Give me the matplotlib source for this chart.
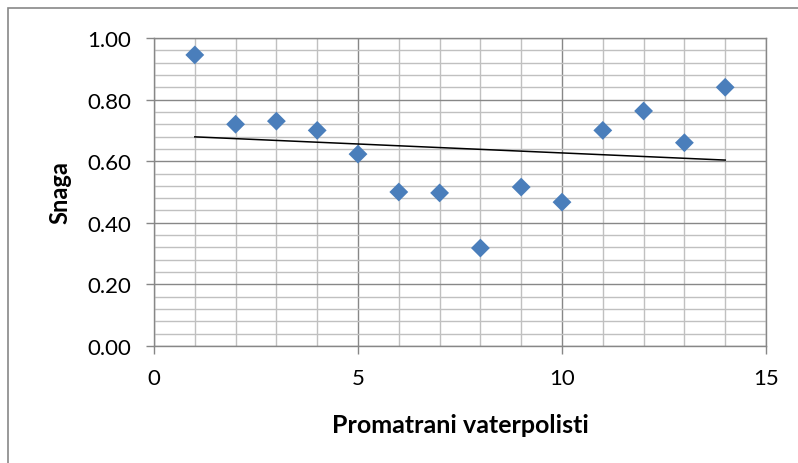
import matplotlib.pyplot as plt
import matplotlib.ticker as mticker
from matplotlib.patches import Rectangle
import numpy as np

plt.rcParams['font.family'] = ['Lato', 'DejaVu Sans']

# data
players = [1, 2, 3, 4, 5, 6, 7, 8, 9, 10, 11, 12, 13, 14]
snaga = [0.945, 0.72, 0.73, 0.70, 0.623, 0.50, 0.497, 0.318, 0.516, 0.467, 0.70, 0.763, 0.66, 0.84]

x_label = "Promatrani vaterpolisti"
y_label = "Snaga"

W, H = 798, 464
fig = plt.figure(figsize=(W / 100, H / 100), dpi=100)

# plot area in pixel coords
left, right, top, bottom = 154, 766, 39, 347
ax = fig.add_axes([left / W, (H - bottom) / H, (right - left) / W, (bottom - top) / H])

major_gray = "#878787"
minor_gray = "#c0c0c0"

ax.set_xlim(0, 15)
ax.set_ylim(0, 1.0)
ax.xaxis.set_major_locator(mticker.MultipleLocator(5))
ax.xaxis.set_minor_locator(mticker.MultipleLocator(1))
ax.yaxis.set_major_locator(mticker.MultipleLocator(0.2))
ax.yaxis.set_minor_locator(mticker.MultipleLocator(0.04))
ax.yaxis.set_major_formatter(mticker.FormatStrFormatter("%.2f"))

ax.set_axisbelow(True)
ax.grid(which="major", color=major_gray, linewidth=1.0)
ax.grid(which="minor", color=minor_gray, linewidth=1.0)

for s in ax.spines.values():
    s.set_color(major_gray)
    s.set_linewidth(1.0)

ax.tick_params(which="major", direction="out", length=5.5, width=1.0, color=major_gray,
               labelsize=16, labelcolor="black", pad=11)
ax.tick_params(axis="x", which="major", pad=10)
ax.tick_params(which="minor", length=0)

ax.scatter(players, snaga, marker="D", s=92, color="#4a7ebb", edgecolor="none", zorder=3)

# linear trend line
coef = np.polyfit(players, snaga, 1)
xt = np.array([min(players), max(players)])
ax.plot(xt, np.polyval(coef, xt), color="black", linewidth=1.1, zorder=4)

ax.set_xlabel(x_label, fontsize=18, fontweight="bold", labelpad=18)
ax.set_ylabel(y_label, fontsize=17, fontweight="bold", labelpad=11)

# outer chart border (cut off at right and bottom)
fig.patches.append(Rectangle((8, -10), W + 20, H - 9 + 10, transform=None,
                             fill=False, edgecolor=major_gray, linewidth=1.2))

fig.savefig("out.png", dpi=100)
